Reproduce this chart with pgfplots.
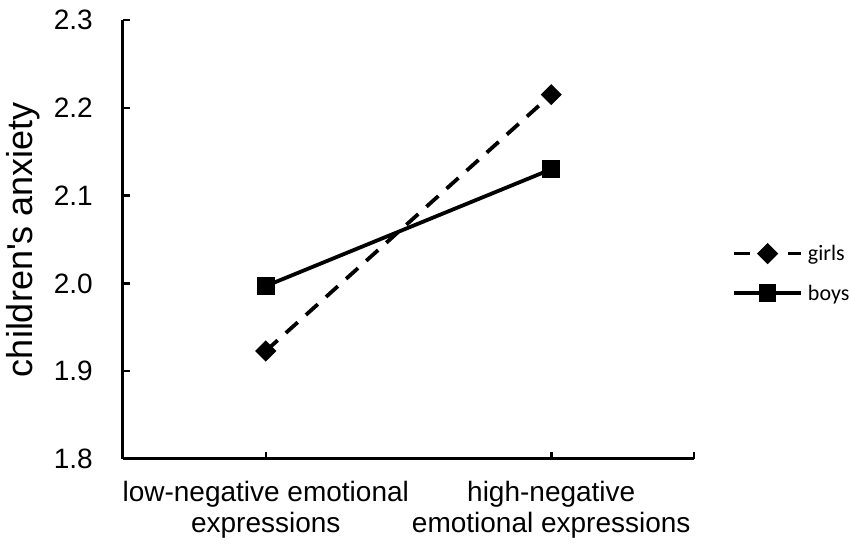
\documentclass[border=0pt]{standalone}
\usepackage{pgfplots}
\pgfplotsset{compat=1.18}
\usepackage{fontspec}
\setmainfont{Liberation Sans}
\newfontfamily\carlito{Carlito}
\begin{document}
\begin{tikzpicture}
\begin{axis}[name=ax, width=571pt, height=439pt, scale only axis, clip=false,
  xmin=0, xmax=1, ymin=1.8, ymax=2.3,
  axis lines=left, axis line style={-, line width=3pt, black},
  xtick={0,0.25,0.75,1},
  xticklabels={{},{low-negative emotional\\expressions},{high-negative\\emotional expressions},{}},
  ytick={1.8,1.9,2.0,2.1,2.2,2.3},
  /pgf/number format/assume math mode=true,
  yticklabel style={/pgf/number format/fixed, /pgf/number format/precision=1, /pgf/number format/fixed zerofill},
  tick style={line width=2.5pt, black}, major tick length=7pt, tick align=inside,
  tick label style={font=\fontsize{28}{31}\selectfont, inner sep=0pt},
  yticklabel style={anchor=east, xshift=-30pt},
  xticklabel style={anchor=north, yshift=-22pt, align=center},
  ylabel={children\textquotesingle s anxiety},
  ylabel style={at={(axis description cs:-0.1454,0.5)}, anchor=south, inner sep=0pt, font=\fontsize{36}{42}\selectfont},
  legend image code/.code={\draw[mark repeat=2,mark phase=2,#1] plot coordinates {(0pt,0pt) (33.5pt,0pt) (67pt,0pt)};},
  legend style={at={(axis description cs:1.0665,0.4226)}, anchor=west, draw=none, fill=none, inner sep=0pt, row sep=19pt, column sep=3pt, font=\carlito\fontsize{22}{26}\selectfont},
  legend cell align=left,
]
\addplot[black, line width=3.8pt, dash pattern=on 16pt off 11pt, mark=square*, mark size=5.6pt, mark options={solid, rotate=45}] coordinates {(0.25,1.923) (0.75,2.215)};
\addlegendentry{girls}
\addplot[black, line width=3.8pt, mark=square*, mark size=7pt] coordinates {(0.25,1.997) (0.75,2.130)};
\addlegendentry{boys}
\end{axis}
\pgfresetboundingbox
\path[use as bounding box] (ax.south west) ++(-123pt,-89pt) rectangle ++(851pt,548pt);
\end{tikzpicture}
\end{document}
